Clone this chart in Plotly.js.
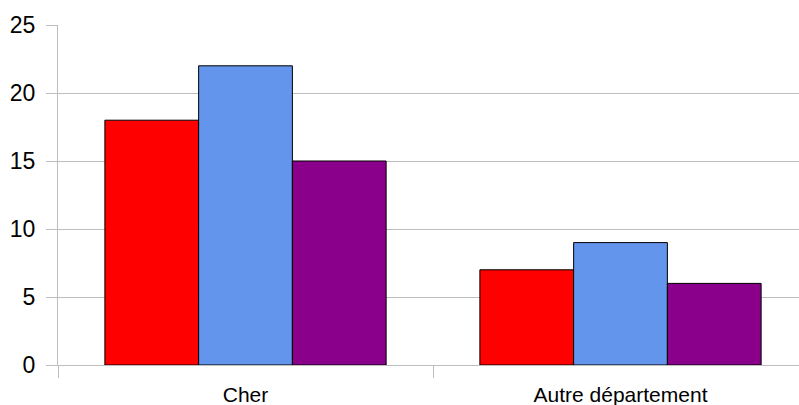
<!DOCTYPE html>
<html><head><meta charset="utf-8">
<script src="https://cdn.plot.ly/plotly-3.0.1.min.js"></script>
<style>html,body{margin:0;padding:0;background:#fff}#c{width:799px;height:405px}</style>
</head><body><div id="c"></div>
<script>
const categories = ["Cher", "Autre département"];
const series1 = [18, 7];
const series2 = [22, 9];
const series3 = [15, 6];
const seriesNames = ["Série 1", "Série 2", "Série 3"];
const seriesColors = ["#ff0000", "#6495ed", "#8b008b"];
const yTicks = [0, 5, 10, 15, 20, 25];

const traces = [series1, series2, series3].map((v, i) => ({
  type: "bar", x: categories, y: v, name: seriesNames[i],
  marker: {color: seriesColors[i], line: {color: "#000", width: 1}}
}));

const layout = {
  width: 799, height: 405,
  margin: {l: 58, r: 0, t: 25, b: 40, pad: 0},
  paper_bgcolor: "#fff", plot_bgcolor: "#fff",
  showlegend: false,
  barmode: "group", bargap: 0.25, bargroupgap: 0,
  font: {family: "Liberation Sans, Arial, sans-serif", color: "#000"},
  xaxis: {
    type: "category", range: [-0.5, 1.476], tickson: "boundaries",
    ticks: "outside", ticklen: 12, tickcolor: "#bdbdbd", tickwidth: 1,
    showgrid: false, showline: true, linecolor: "#bdbdbd", linewidth: 1,
    tickfont: {size: 21, family: "Liberation Sans, Arial, sans-serif"},
    ticklabelstandoff: 11,
    zeroline: false, fixedrange: true
  },
  yaxis: {
    range: [0, 25], tickvals: yTicks, ticktext: yTicks.map(String),
    ticks: "outside", ticklen: 11, tickcolor: "#bdbdbd", tickwidth: 1,
    showgrid: true, gridcolor: "#bdbdbd", gridwidth: 1,
    showline: true, linecolor: "#bdbdbd", linewidth: 1, zeroline: false,
    tickfont: {size: 23, family: "Liberation Sans, Arial, sans-serif"},
    ticklabelstandoff: 6
  }
};
Plotly.newPlot("c", traces, layout, {staticPlot: true, displayModeBar: false});
</script></body></html>
